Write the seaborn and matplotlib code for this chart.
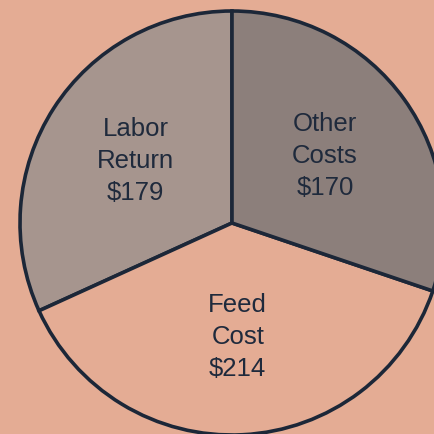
import matplotlib.pyplot as plt
import seaborn as sns

# Dairy cost breakdown per cow
labels = ['Labor\nReturn\n$179', 'Feed\nCost\n$214', 'Other\nCosts\n$170']
values = [179, 214, 170]
colors = ['#a6958e', '#e4ac94', '#8c7f7b']

sns.set_theme(style='white')
plt.rcParams['font.family'] = ['Liberation Sans', 'DejaVu Sans']

W, H = 435, 434
fig = plt.figure(figsize=(W / 100, H / 100), dpi=100)
fig.patch.set_facecolor('#e4ac94')
ax = fig.add_axes([0, 0, 1, 1])
ax.set_facecolor('#e4ac94')

wedges, texts = ax.pie(
    values, labels=labels, colors=colors, startangle=90, counterclock=True,
    center=(232, H - 223), radius=212, labeldistance=0.54, frame=True,
    wedgeprops=dict(edgecolor='#1c2738', linewidth=2.6),
    textprops=dict(ha='center', va='center', fontsize=18.5, color='#1f2a3c',
                   linespacing=1.42),
)

ax.set_xlim(0, W)
ax.set_ylim(0, H)
ax.set_aspect('equal')
ax.axis('off')

fig.savefig('out.png', dpi=100, facecolor=fig.get_facecolor())
